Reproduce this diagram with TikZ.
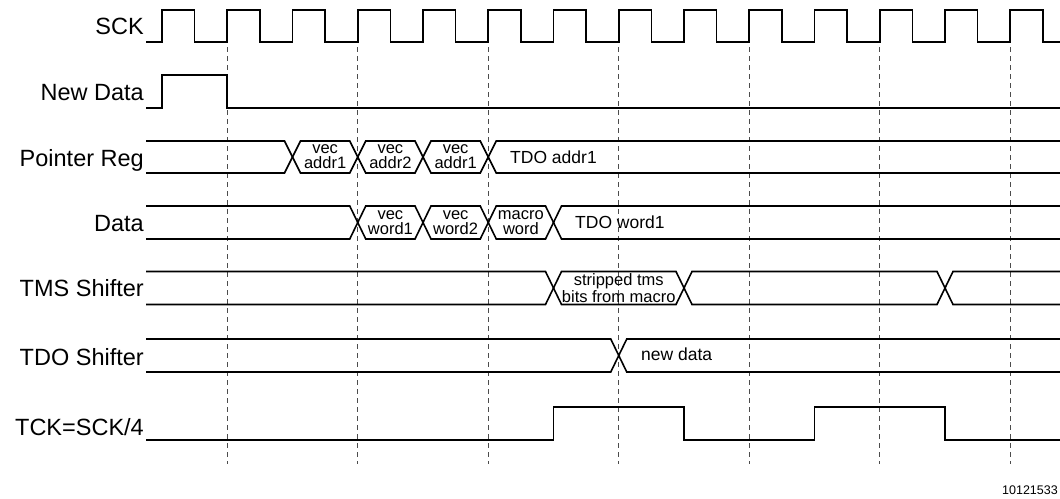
\documentclass[tikz,border=0pt]{standalone}
\usepackage{fontspec}
\setmainfont{Liberation Sans}
\begin{document}
\begin{tikzpicture}[x=1pt,y=-1pt,
  sig/.style={line width=1.6pt, line join=miter, black},
  gridline/.style={line width=1pt, draw=black!70, dash pattern=on 5pt off 4pt},
  lab/.style={anchor=base east, inner sep=0pt, font=\fontsize{23.5}{26}\selectfont},
  bt/.style={inner sep=0pt, align=center, font=\fontsize{16.5}{15}\selectfont},
  bt1/.style={anchor=base west, inner sep=0pt, font=\fontsize{17.5}{20}\selectfont},
  foot/.style={anchor=base east, inner sep=0pt, font=\fontsize{12.5}{14}\selectfont}]
\fill[white] (0,0) rectangle (1060,498);
\useasboundingbox (0,0) rectangle (1060,498);

% dashed reference lines
\foreach \k in {1,3,5,7,9,11,13}
  \draw[gridline] ({162+65.25*\k},47) -- ({162+65.25*\k},464);

% labels
\node[lab] (lsck) at (144,34) {SCK};
\node[lab] (lnd)  at (144,100) {New Data};
\node[lab] (lptr) at (144,166.5) {Pointer Reg};
\node[lab] (ldat) at (144,231) {Data};
\node[lab] (ltms) at (144,296.5) {TMS Shifter};
\node[lab] (ltdo) at (144,365.5) {TDO Shifter};
\node[lab] (ltck) at (144,435) {TCK=SCK/4};

% SCK
\draw[sig] (146,42) \foreach \k in {0,...,13} { -- ({162+65.25*\k},42) -- ({162+65.25*\k},10) -- ({194.625+65.25*\k},10) -- ({194.625+65.25*\k},42) } -- (1060,42);

% New Data
\draw[sig] (146,108) -- (162,108) -- (162,75) -- (227.25,75) -- (227.25,108) -- (1060,108);

% Pointer Reg
\draw[sig] (146,141) -- (284.5,141) -- (300.5,173) -- (349.75,173) -- (365.75,141) -- (415,141) -- (431,173) -- (480.25,173) -- (496.25,141) -- (1060,141);
\draw[sig] (146,173) -- (284.5,173) -- (300.5,141) -- (349.75,141) -- (365.75,173) -- (415,173) -- (431,141) -- (480.25,141) -- (496.25,173) -- (1060,173);
\node[bt] (p1) at (325.1,157) {vec\\addr1};
\node[bt] (p2) at (390.4,157) {vec\\addr2};
\node[bt] (p3) at (455.6,157) {vec\\addr1};
\node[bt1] (p4) at (510,163) {TDO addr1};

% Data
\draw[sig] (146,206) -- (349.75,206) -- (365.75,239) -- (415,239) -- (431,206) -- (480.25,206) -- (496.25,239) -- (545.5,239) -- (561.5,206) -- (1060,206);
\draw[sig] (146,239) -- (349.75,239) -- (365.75,206) -- (415,206) -- (431,239) -- (480.25,239) -- (496.25,206) -- (545.5,206) -- (561.5,239) -- (1060,239);
\node[bt] (d1) at (390.4,222.5) {vec\\word1};
\node[bt] (d2) at (455.6,222.5) {vec\\word2};
\node[bt] (d3) at (520.9,222.5) {macro\\word};
\node[bt1] (d4) at (575,228.5) {TDO word1};

% TMS Shifter
\draw[sig] (146,271.5) -- (545.5,271.5) -- (561.5,304.5) -- (676,304.5) -- (692,271.5) -- (937,271.5) -- (953,304.5) -- (1060,304.5);
\draw[sig] (146,304.5) -- (545.5,304.5) -- (561.5,271.5) -- (676,271.5) -- (692,304.5) -- (937,304.5) -- (953,271.5) -- (1060,271.5);
\node[bt] (t1) at (618.75,288) {stripped tms\\bits from macro};

% TDO Shifter
\draw[sig] (146,339) -- (610.75,339) -- (626.75,372) -- (1060,372);
\draw[sig] (146,372) -- (610.75,372) -- (626.75,339) -- (1060,339);
\node[bt1] (o1) at (641,360.5) {new data};

% TCK
\draw[sig] (146,440) -- (553.5,440) -- (553.5,407) -- (684,407) -- (684,440) -- (814.5,440) -- (814.5,407) -- (945,407) -- (945,440) -- (1060,440);

% footer
\node[foot] (ft) at (1058,494) {10121533};
\end{tikzpicture}
\end{document}
